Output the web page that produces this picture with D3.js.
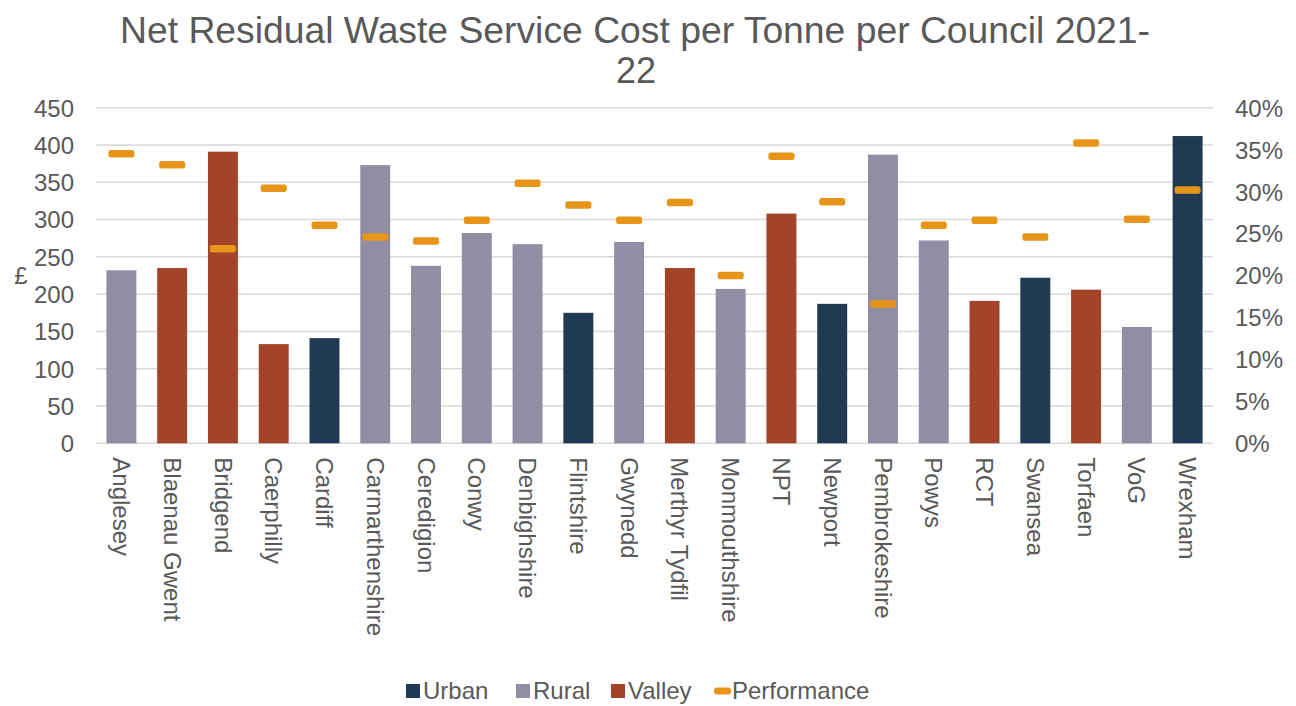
<!DOCTYPE html>
<html>
<head>
<meta charset="utf-8">
<script src="https://cdn.jsdelivr.net/npm/d3@7"></script>
<style>
  html, body { margin: 0; padding: 0; background: #fff; }
  svg text { font-family: "Liberation Sans", Arial, sans-serif; fill: #595959; }
</style>
</head>
<body>
<svg id="chart" width="1296" height="706"></svg>
<script>
// Councils, in display order
const councils = ["Anglesey", "Blaenau Gwent", "Bridgend", "Caerphilly", "Cardiff", "Carmarthenshire",
  "Ceredigion", "Conwy", "Denbighshire", "Flintshire", "Gwynedd", "Merthyr Tydfil", "Monmouthshire",
  "NPT", "Newport", "Pembrokeshire", "Powys", "RCT", "Swansea", "Torfaen", "VoG", "Wrexham"];

// Council type (Urban / Rural / Valley)
const councilType = ["Rural", "Valley", "Valley", "Valley", "Urban", "Rural",
  "Rural", "Rural", "Rural", "Urban", "Rural", "Valley", "Rural",
  "Valley", "Urban", "Rural", "Rural", "Valley", "Urban", "Valley", "Rural", "Urban"];

// Net residual waste service cost per tonne (£)
const costPerTonne = [232, 235, 391, 133, 141, 373, 238, 282, 267, 175, 270, 235, 207,
  308, 187, 387, 272, 191, 222, 206, 156, 412];

// Performance (%)
const performance = [34.5, 33.2, 23.2, 30.4, 26.0, 24.6, 24.1, 26.6, 31.0, 28.4, 26.6, 28.7, 20.0,
  34.2, 28.8, 16.6, 26.0, 26.6, 24.6, 35.8, 26.7, 30.2];

const leftTicks = [0, 50, 100, 150, 200, 250, 300, 350, 400, 450];
const rightTicks = [0, 5, 10, 15, 20, 25, 30, 35, 40];

const typeColors = { Urban: "#1F3A52", Rural: "#918EA3", Valley: "#A2432A" };
const perfColor = "#E69519";
const legendItems = ["Urban", "Rural", "Valley", "Performance"];

const svg = d3.select("#chart");
const plot = { left: 96, right: 1213, top: 107.7, bottom: 443.3 };
const fs = 24;

const x = d3.scaleBand().domain(councils).range([plot.left, plot.right])
  .paddingInner(0.41).paddingOuter(0.205);
const y = d3.scaleLinear().domain([0, 450]).range([plot.bottom, plot.top]);
const y2 = d3.scaleLinear().domain([0, 40]).range([plot.bottom, plot.top]);

// Title
const title = svg.append("g").attr("class", "title");
title.append("text").attr("x", 635).attr("y", 43).attr("text-anchor", "middle")
  .attr("font-size", 36).attr("textLength", 1030).attr("lengthAdjust", "spacingAndGlyphs")
  .text("Net Residual Waste Service Cost per Tonne per Council 2021-");
title.append("text").attr("x", 636).attr("y", 83).attr("text-anchor", "middle")
  .attr("font-size", 36).text("22");

// Gridlines
svg.append("g").selectAll("line").data(leftTicks).join("line")
  .attr("x1", plot.left).attr("x2", plot.right)
  .attr("y1", d => y(d)).attr("y2", d => y(d))
  .attr("stroke", "#D9D9D9").attr("stroke-width", 1.5);

// Left axis
const leftAxis = svg.append("g").attr("transform", `translate(${plot.left - 22},0)`)
  .call(d3.axisLeft(y).tickValues(leftTicks).tickSize(0).tickPadding(0));
leftAxis.select(".domain").remove();
leftAxis.selectAll("text").attr("font-size", fs).attr("dy", "0.35em");

// Right axis
const rightAxis = svg.append("g").attr("transform", `translate(1235,0)`)
  .call(d3.axisRight(y2).tickValues(rightTicks).tickSize(0).tickPadding(0).tickFormat(d => d + "%"));
rightAxis.select(".domain").remove();
rightAxis.selectAll("text").attr("font-size", fs).attr("dy", "0.35em");

// Axis title
svg.append("text").attr("x", 21).attr("y", 276).attr("dy", "0.35em").attr("text-anchor", "middle")
  .attr("font-size", fs).text("£");

// Bars
svg.append("g").selectAll("rect").data(councils).join("rect")
  .attr("x", d => x(d)).attr("width", x.bandwidth())
  .attr("y", (d, i) => y(costPerTonne[i]))
  .attr("height", (d, i) => y(0) - y(costPerTonne[i]))
  .attr("fill", (d, i) => typeColors[councilType[i]]);

// Performance markers
const mw = 26, mh = 7.5;
svg.append("g").selectAll("rect").data(councils).join("rect")
  .attr("x", d => x(d) + x.bandwidth() / 2 - mw / 2)
  .attr("y", (d, i) => y2(performance[i]) - mh / 2)
  .attr("width", mw).attr("height", mh).attr("rx", 2.5)
  .attr("fill", perfColor);

// Category labels
const xAxis = svg.append("g").attr("transform", `translate(0,${plot.bottom})`)
  .call(d3.axisBottom(x).tickSize(0).tickPadding(0));
xAxis.select(".domain").remove();
xAxis.selectAll("text")
  .attr("font-size", fs)
  .attr("text-anchor", "start")
  .attr("transform", "translate(0,14) rotate(90)")
  .attr("x", 0).attr("y", 0).attr("dy", "0.35em");

// Legend
const legendX = [406, 516, 611, 714];
const legend = svg.append("g");
legendItems.forEach((name, i) => {
  const g = legend.append("g").attr("transform", `translate(${legendX[i]},691)`);
  if (name === "Performance") {
    g.append("rect").attr("x", 0).attr("y", -3.5).attr("width", 17).attr("height", 7)
      .attr("rx", 3).attr("fill", perfColor);
    g.append("text").attr("x", 18).attr("y", 0).attr("dy", "0.35em").attr("font-size", fs).text(name);
  } else {
    g.append("rect").attr("x", 0).attr("y", -7).attr("width", 14).attr("height", 14)
      .attr("fill", typeColors[name]);
    g.append("text").attr("x", 17).attr("y", 0).attr("dy", "0.35em").attr("font-size", fs).text(name);
  }
});
</script>
</body>
</html>
